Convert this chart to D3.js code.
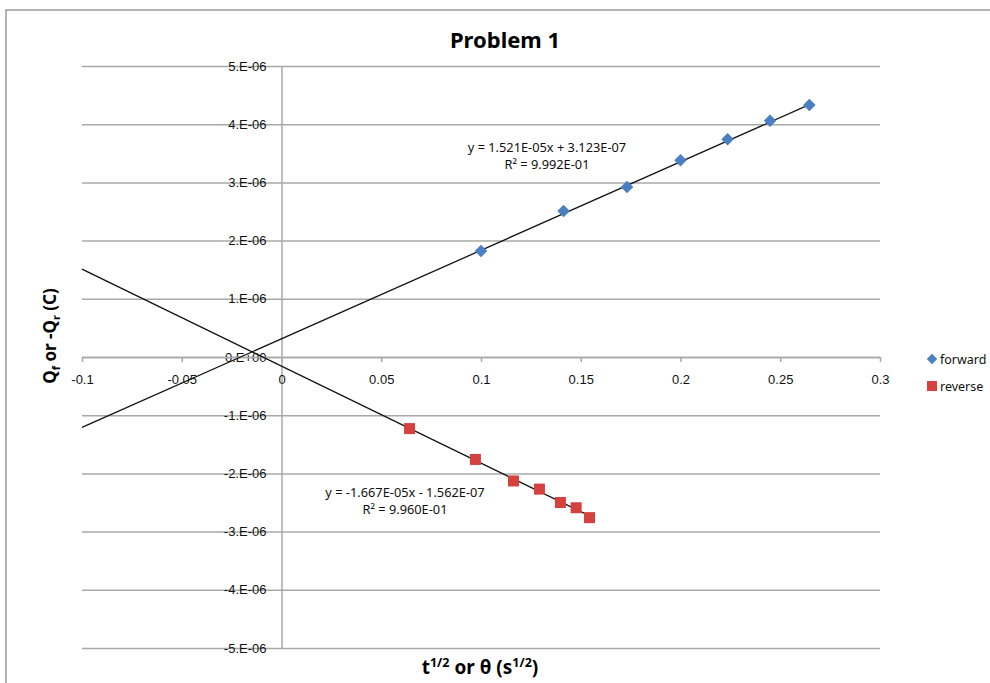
<!DOCTYPE html>
<html>
<head>
<meta charset="utf-8">
<script src="https://cdn.jsdelivr.net/npm/d3@7"></script>
<style>
  body { margin: 0; background: #fff; }
  svg { font-family: "Noto Sans", "Open Sans", sans-serif; }
</style>
</head>
<body>
<div class="chart"></div>
<script>
// data
const seriesNames = ["forward", "reverse"];
const fwdX = [0.1, 0.1414, 0.1732, 0.2, 0.2236, 0.2449, 0.2646];
const fwdY = [1.82e-6, 2.51e-6, 2.92e-6, 3.38e-6, 3.74e-6, 4.06e-6, 4.33e-6];
const revX = [0.0642, 0.0972, 0.1163, 0.1293, 0.1398, 0.1477, 0.1544];
const revY = [-1.23e-6, -1.76e-6, -2.13e-6, -2.27e-6, -2.50e-6, -2.59e-6, -2.76e-6];
const slopes = [1.521e-5, -1.667e-5];
const intercepts = [3.123e-7, -1.562e-7];
const eqLines = [
  ["y = 1.521E-05x + 3.123E-07", "R² = 9.992E-01"],
  ["y = -1.667E-05x - 1.562E-07", "R² = 9.960E-01"]
];
const xTicks = [-0.1, -0.05, 0, 0.05, 0.1, 0.15, 0.2, 0.25, 0.3];
const yTicks = [-5e-6, -4e-6, -3e-6, -2e-6, -1e-6, 0, 1e-6, 2e-6, 3e-6, 4e-6, 5e-6];

const width = 990, height = 683;
const colors = ["#4a7fc1", "#d4413f"];

const svg = d3.select(".chart").append("svg")
  .attr("width", width)
  .attr("height", height);

// outer chart border (top and left visible)
svg.append("path")
  .attr("d", "M6,683 V10 H990")
  .attr("fill", "none")
  .attr("stroke", "#9a9a9a")
  .attr("stroke-width", 1.5);

const x = d3.scaleLinear().domain([-0.1, 0.3]).range([82, 880]);
const y = d3.scaleLinear().domain([-5e-6, 5e-6]).range([648, 66]);

const gridColor = "#a8a8a8";

// horizontal gridlines
svg.append("g")
  .attr("class", "grid")
  .attr("transform", `translate(${x.range()[0]},0)`)
  .call(d3.axisLeft(y).tickValues(yTicks).tickSize(-(x.range()[1] - x.range()[0])).tickFormat(""))
  .call(g => g.select(".domain").remove())
  .call(g => g.selectAll("line").attr("stroke", gridColor).attr("stroke-width", 1.5));

const yFmt = v => v === 0 ? "0.E+00" : (v < 0 ? "-" : "") + Math.round(Math.abs(v) * 1e6) + ".E-06";
const xFmt = v => String(+v.toFixed(2));

// y axis at x = 0
svg.append("g")
  .attr("transform", `translate(${x(0)},0)`)
  .call(d3.axisLeft(y).tickValues(yTicks).tickSize(0).tickPadding(15).tickFormat(yFmt))
  .call(g => g.select(".domain").attr("stroke", gridColor).attr("stroke-width", 1.5))
  .call(g => g.selectAll("text").attr("font-size", 13).attr("fill", "#111"));

// x axis at y = 0
svg.append("g")
  .attr("transform", `translate(0,${y(0)})`)
  .call(d3.axisBottom(x).tickValues(xTicks).tickSize(5).tickPadding(13).tickSizeOuter(0).tickFormat(xFmt))
  .call(g => g.select(".domain").attr("stroke", gridColor).attr("stroke-width", 1.5))
  .call(g => g.selectAll("line").attr("stroke", gridColor).attr("stroke-width", 1.5))
  .call(g => g.selectAll("text").attr("font-size", 13).attr("fill", "#111"));

// trendlines, extended back to x = -0.1
const xsets = [fwdX, revX];
const line = d3.line().x(d => x(d[0])).y(d => y(d[1]));
slopes.forEach((m, i) => {
  const x0 = x.domain()[0];
  const x1 = d3.max(xsets[i]);
  svg.append("path")
    .attr("d", line([[x0, m * x0 + intercepts[i]], [x1, m * x1 + intercepts[i]]]))
    .attr("fill", "none")
    .attr("stroke", "#111")
    .attr("stroke-width", 1.3);
});

// forward markers (diamonds)
const fwd = fwdX.map((d, i) => [d, fwdY[i]]);
svg.append("g").selectAll("path")
  .data(fwd)
  .join("path")
  .attr("d", d3.symbol(d3.symbolDiamond2, 100))
  .attr("transform", d => `translate(${x(d[0])},${y(d[1])})`)
  .attr("fill", colors[0]);

// reverse markers (squares)
const rev = revX.map((d, i) => [d, revY[i]]);
svg.append("g").selectAll("rect")
  .data(rev)
  .join("rect")
  .attr("x", d => x(d[0]) - 5.5)
  .attr("y", d => y(d[1]) - 5.5)
  .attr("width", 11)
  .attr("height", 11)
  .attr("fill", colors[1]);

// equation labels
const eqPos = [[547, 152], [405, 497]];
eqLines.forEach((lines, i) => {
  const t = svg.append("text")
    .attr("text-anchor", "middle")
    .attr("font-size", 12.8)
    .attr("fill", "#111");
  lines.forEach((s, j) => {
    t.append("tspan")
      .attr("x", eqPos[i][0])
      .attr("y", eqPos[i][1] + j * 17)
      .text(s);
  });
});

// title
svg.append("text")
  .attr("x", 505)
  .attr("y", 48)
  .attr("text-anchor", "middle")
  .attr("font-size", 22)
  .attr("font-weight", "bold")
  .text("Problem 1");

// y axis title
const yt = svg.append("text")
  .attr("transform", "translate(56,336) rotate(-90)")
  .attr("text-anchor", "middle")
  .attr("font-size", 17)
  .attr("font-weight", "bold");
yt.append("tspan").text("Q");
yt.append("tspan").attr("font-size", 11).attr("dy", 4).text("f");
yt.append("tspan").attr("dy", -4).text(" or -Q");
yt.append("tspan").attr("font-size", 11).attr("dy", 4).text("r");
yt.append("tspan").attr("dy", -4).text(" (C)");

// x axis title
const xt = svg.append("text")
  .attr("x", 480)
  .attr("y", 674)
  .attr("text-anchor", "middle")
  .attr("font-size", 19)
  .attr("font-weight", "bold");
xt.append("tspan").text("t");
xt.append("tspan").attr("font-size", 12.5).attr("dy", -7).text("1/2");
xt.append("tspan").attr("dy", 7).text(" or θ (s");
xt.append("tspan").attr("font-size", 12.5).attr("dy", -7).text("1/2");
xt.append("tspan").attr("dy", 7).text(")");

// legend
const legend = svg.append("g").attr("transform", "translate(932,359)");
seriesNames.forEach((name, i) => {
  const g = legend.append("g").attr("transform", `translate(0,${i * 27})`);
  if (i === 0) {
    g.append("path").attr("d", d3.symbol(d3.symbolDiamond2, 70)).attr("fill", colors[i]);
  } else {
    g.append("rect").attr("x", -5).attr("y", -5).attr("width", 10).attr("height", 10).attr("fill", colors[i]);
  }
  g.append("text")
    .attr("x", 8)
    .attr("y", 4.5)
    .attr("font-size", 12.5)
    .attr("fill", "#111")
    .text(name);
});
</script>
</body>
</html>
